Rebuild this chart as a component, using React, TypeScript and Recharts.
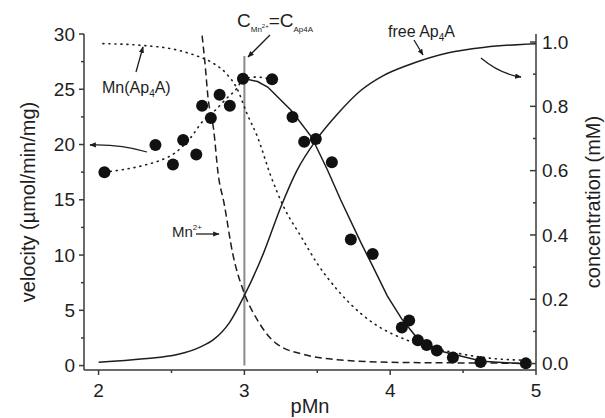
import React from "react";
import {
  ComposedChart,
  Line,
  ReferenceLine,
  Scatter,
  XAxis,
  YAxis,
} from "recharts";

// measured velocities (left axis)
const pMnPts = [2.04, 2.39, 2.51, 2.58, 2.67, 2.71, 2.77, 2.83, 2.9, 2.99, 3.19, 3.33, 3.41, 3.49, 3.6, 3.73, 3.88, 4.08, 4.13, 4.19, 4.25, 4.32, 4.43, 4.62, 4.93];
const velPts = [17.5, 19.95, 18.2, 20.4, 19.1, 23.5, 22.4, 24.5, 23.5, 25.95, 25.9, 22.5, 20.25, 20.5, 18.4, 11.4, 10.1, 3.45, 4.07, 2.3, 1.87, 1.36, 0.74, 0.33, 0.2];

// fitted velocity curve (solid)
const fitX = [2.99, 3.09, 3.16, 3.32, 3.46, 3.57, 3.66, 3.8, 3.88, 3.98, 4.08, 4.19, 4.35, 4.63, 4.93];
const fitV = [26.0, 25.7, 25.2, 23.1, 20.7, 17.7, 15.0, 11.1, 9.0, 6.3, 4.2, 2.4, 1.3, 0.4, 0.15];

// dotted guide through the rising points
const trendX = [2.04, 2.32, 2.43, 2.52, 2.63, 2.72, 2.8, 2.88, 2.95, 2.99, 3.08, 3.19];
const trendV = [17.5, 18.15, 18.6, 19.2, 20.6, 22.2, 23.1, 24.2, 25.1, 25.9, 26.1, 25.9];

// concentrations (right axis, mM)
const freeX = [2.0, 2.31, 2.54, 2.7, 2.79, 2.9, 3.0, 3.13, 3.25, 3.36, 3.5, 3.64, 3.8, 3.95, 4.12, 4.4, 4.65, 5.0];
const freeC = [0.004, 0.015, 0.028, 0.052, 0.075, 0.129, 0.212, 0.342, 0.487, 0.6, 0.7, 0.777, 0.85, 0.895, 0.928, 0.967, 0.984, 0.995];

const mnX = [2.71, 2.73, 2.75, 2.79, 2.82, 2.86, 2.92, 3.0, 3.09, 3.22, 3.43, 3.66, 3.75, 4.0, 4.5, 4.93];
const mnC = [1.02, 0.933, 0.83, 0.725, 0.59, 0.5, 0.342, 0.218, 0.135, 0.062, 0.026, 0.011, 0.008, 0.004, 0.002, 0.001];

const mnaX = [2.03, 2.29, 2.55, 2.66, 2.79, 2.88, 2.95, 3.02, 3.09, 3.18, 3.27, 3.39, 3.5, 3.64, 3.8, 3.89, 4.12, 4.42, 4.7, 4.95];
const mnaC = [0.995, 0.99, 0.974, 0.959, 0.933, 0.9, 0.855, 0.775, 0.705, 0.585, 0.487, 0.394, 0.311, 0.228, 0.155, 0.124, 0.072, 0.036, 0.016, 0.01];

const xTicks = [2, 2.5, 3, 3.5, 4, 4.5, 5];
const velTicks = [0, 2.5, 5, 7.5, 10, 12.5, 15, 17.5, 20, 22.5, 25, 27.5, 30];
const concTicks = [0, 0.1, 0.2, 0.3, 0.4, 0.5, 0.6, 0.7, 0.8, 0.9, 1.0];

const zip = (xs: number[], ys: number[]) => xs.map((x, i) => ({ x, y: ys[i] }));

const FONT = "'Liberation Sans', Arial, Helvetica, sans-serif";
const AXIS = "#3a3a3a";
const INK = "#1e1e1e";

const XTick = (props: any) => {
  const { x, y, payload } = props;
  const v = payload.value;
  const major = Math.abs(v - Math.round(v)) < 1e-6;
  return (
    <g>
      <line x1={x} x2={x} y1={y} y2={y + (major ? 5 : 3)} stroke={AXIS} strokeWidth={1.5} />
      {major && (
        <text x={x} y={y + 27} textAnchor="middle" fontSize={19} fontFamily={FONT} fill={INK}>
          {v}
        </text>
      )}
    </g>
  );
};

const VelTick = (props: any) => {
  const { x, y, payload } = props;
  const v = payload.value;
  const major = v % 5 === 0;
  return (
    <g>
      <line x1={x - (major ? 5 : 3)} x2={x} y1={y} y2={y} stroke={AXIS} strokeWidth={1.5} />
      {major && (
        <text x={x - 9} y={y + 6.7} textAnchor="end" fontSize={19} fontFamily={FONT} fill={INK}>
          {v}
        </text>
      )}
    </g>
  );
};

const ConcTick = (props: any) => {
  const { x, y, payload } = props;
  const v = payload.value;
  const major = Math.round(v * 10) % 2 === 0;
  return (
    <g>
      <line x1={x - (major ? 6 : 3)} x2={x} y1={y} y2={y} stroke={AXIS} strokeWidth={1.5} />
      {major && (
        <text x={x + 6} y={y + 6.7} textAnchor="start" fontSize={19} fontFamily={FONT} fill={INK}>
          {v.toFixed(1)}
        </text>
      )}
    </g>
  );
};

const Dot = (p: any) => <circle cx={p.cx} cy={p.cy} r={6} fill="#111" />;

const Notes = () => (
  <svg
    width={605}
    height={418}
    style={{ position: "absolute", left: 0, top: 0, pointerEvents: "none" }}
    fontFamily={FONT}
    fill={INK}
  >
    <defs>
      <marker id="ah" viewBox="0 0 10 10" refX="9" refY="5" markerWidth="5" markerHeight="5" orient="auto">
        <path d="M0,1 L10,5 L0,9 z" fill={INK} />
      </marker>
    </defs>
    <text x={237} y={27} fontSize={19}>
      C<tspan fontSize={8} dy={5}>Mn</tspan>
      <tspan fontSize={6} dy={-4}>2+</tspan>
      <tspan fontSize={19} dy={-1}>=C</tspan>
      <tspan fontSize={8} dy={5}>Ap4A</tspan>
    </text>
    <line x1={270} y1={35} x2={248} y2={57} stroke={INK} strokeWidth={1.3} markerEnd="url(#ah)" />

    <text x={388} y={37} fontSize={16}>
      free Ap<tspan fontSize={10} dy={4}>4</tspan>
      <tspan dy={-4}>A</tspan>
    </text>
    <line x1={414} y1={40} x2={423} y2={55} stroke={INK} strokeWidth={1.3} markerEnd="url(#ah)" />
    <path d="M481,58 Q500,74 521,77" fill="none" stroke={INK} strokeWidth={1.3} markerEnd="url(#ah)" />

    <text x={102} y={93} fontSize={16}>
      Mn(Ap<tspan fontSize={10} dy={4}>4</tspan>
      <tspan dy={-4}>A)</tspan>
    </text>
    <line x1={136} y1={72} x2={143} y2={47} stroke={INK} strokeWidth={1.3} markerEnd="url(#ah)" />
    <path d="M147,152 Q120,144 90,145" fill="none" stroke={INK} strokeWidth={1.3} markerEnd="url(#ah)" />

    <text x={172} y={237} fontSize={15}>
      Mn<tspan fontSize={8} dy={-7}>2+</tspan>
    </text>
    <line x1={196} y1={234} x2={219} y2={234} stroke={INK} strokeWidth={1.3} markerEnd="url(#ah)" />
  </svg>
);

export default function App() {
  return (
    <div style={{ position: "absolute", left: 0, top: 0, width: 605, height: 418, background: "#fff" }}>
      <ComposedChart width={605} height={418} margin={{ top: 34, right: 0, bottom: 0, left: 0 }}>
        <XAxis
          type="number"
          dataKey="x"
          domain={[1.9, 5]}
          allowDataOverflow
          ticks={xTicks}
          interval={0}
          height={48}
          tickSize={0}
          tickMargin={0}
          tickLine={false}
          tick={<XTick />}
          axisLine={{ stroke: AXIS, strokeWidth: 1.5 }}
          label={{ value: "pMn", position: "insideBottom", offset: 5, fontSize: 20, fontFamily: FONT, fill: INK }}
        />
        <YAxis
          yAxisId="v"
          orientation="left"
          type="number"
          domain={[-0.4, 30]}
          allowDataOverflow
          ticks={velTicks}
          interval={0}
          width={84}
          tickSize={0}
          tickMargin={0}
          tickLine={false}
          tick={<VelTick />}
          axisLine={{ stroke: AXIS, strokeWidth: 1.5 }}
          label={{
            value: "velocity (\u00b5mol/min/mg)",
            angle: -90,
            position: "insideLeft",
            offset: 28,
            style: { textAnchor: "middle" },
            fontSize: 20,
            fontFamily: FONT,
            fill: INK,
          }}
        />
        <YAxis
          yAxisId="c"
          orientation="right"
          type="number"
          domain={[-0.02, 1.025]}
          allowDataOverflow
          ticks={concTicks}
          interval={0}
          width={69}
          tickSize={0}
          tickMargin={0}
          tickLine={false}
          tick={<ConcTick />}
          axisLine={{ stroke: AXIS, strokeWidth: 1.5 }}
          label={{
            value: "concentration (mM)",
            angle: -90,
            position: "insideRight",
            offset: 12,
            style: { textAnchor: "middle" },
            fontSize: 20,
            fontFamily: FONT,
            fill: INK,
          }}
        />
        <ReferenceLine
          yAxisId="v"
          segment={[{ x: 3, y: 0 }, { x: 3, y: 28 }]}
          stroke="#8a8a8a"
          strokeWidth={2}
        />
        <Line yAxisId="c" data={zip(mnaX, mnaC)} dataKey="y" type="monotone" stroke={INK} strokeWidth={1.6} strokeDasharray="1 5" strokeLinecap="round" dot={false} activeDot={false} isAnimationActive={false} />
        <Line yAxisId="c" data={zip(mnX, mnC)} dataKey="y" type="monotone" stroke={INK} strokeWidth={1.5} strokeDasharray="7 4" dot={false} activeDot={false} isAnimationActive={false} />
        <Line yAxisId="c" data={zip(freeX, freeC)} dataKey="y" type="monotone" stroke={INK} strokeWidth={1.5} dot={false} activeDot={false} isAnimationActive={false} />
        <Line yAxisId="v" data={zip(trendX, trendV)} dataKey="y" type="monotone" stroke={INK} strokeWidth={1.6} strokeDasharray="1 5" strokeLinecap="round" dot={false} activeDot={false} isAnimationActive={false} />
        <Line yAxisId="v" data={zip(fitX, fitV)} dataKey="y" type="linear" stroke={INK} strokeWidth={1.5} dot={false} activeDot={false} isAnimationActive={false} />
        <Scatter yAxisId="v" data={zip(pMnPts, velPts)} dataKey="y" shape={<Dot />} isAnimationActive={false} />
      </ComposedChart>
      <Notes />
    </div>
  );
}
